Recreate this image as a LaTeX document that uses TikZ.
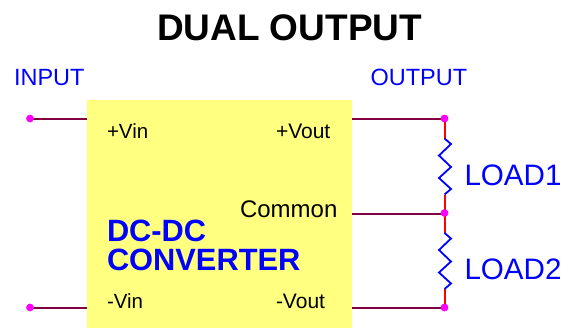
\documentclass[tikz,border=0pt]{standalone}
\usepackage{fontspec}
\setmainfont{Liberation Sans}
\definecolor{wirec}{RGB}{128,0,64}
\definecolor{boxc}{RGB}{255,255,128}
\definecolor{dotc}{RGB}{255,0,255}
\definecolor{labc}{RGB}{0,0,255}
\begin{document}
\begin{tikzpicture}[x=1pt,y=-1pt,
  lbl/.style={anchor=base west,inner sep=0pt,outer sep=0pt},
  blue23/.style={lbl,text=labc,font=\fontsize{23.5}{23.5}\selectfont},
  blue29/.style={lbl,text=labc,font=\fontsize{29.6}{29.6}\selectfont},
  pin/.style={lbl,text=black,font=\fontsize{21}{21}\selectfont},
  conv/.style={lbl,text=labc,font=\fontsize{30.8}{30.8}\selectfont\bfseries},
  dot/.style={circle,fill=dotc,draw=none,minimum size=7.5pt,inner sep=0pt},
  wire/.style={draw=wirec,line width=2pt},
  lead/.style={draw=red,line width=2pt},
  zig/.style={draw=blue,line width=1.8pt,line join=miter}]
\useasboundingbox (0,0) rectangle (570,329);
\node[draw=none,fill=boxc,minimum width=265pt,minimum height=228pt,inner sep=0pt,outer sep=0pt] (box) at (219.5,214) {};
\coordinate (w1) at (box.west |- 0,119);
\coordinate (w2) at (box.west |- 0,308);
\coordinate (e1) at (box.east |- 0,119);
\coordinate (e2) at (box.east |- 0,213.7);
\coordinate (e3) at (box.east |- 0,308);
\node[dot] (in1) at (30,118.5) {};
\node[dot] (in2) at (30,307.5) {};
\node[dot] (out1) at (444.5,118.5) {};
\node[dot] (out2) at (444.5,213) {};
\node[dot] (out3) at (444.5,307.5) {};
\coordinate (r1a) at (444.5,138.5);
\coordinate (r1b) at (444.5,194.5);
\coordinate (r2a) at (444.5,233);
\coordinate (r2b) at (444.5,289);
\draw[lead] (out1.center) -- (r1a);
\draw[lead] (r1b) -- (out2.center) -- (r2a);
\draw[lead] (r2b) -- (out3.center);
\draw[zig] (r1a) -- (451,144) -- (439,155.5) -- (451,167) -- (439,178) -- (451,189) -- (r1b);
\draw[zig] (r2a) -- (451,238.5) -- (439,250) -- (451,261.5) -- (439,272.5) -- (451,283.5) -- (r2b);
\draw[wire] (in1.center |- w1) -- (w1);
\draw[wire] (in2.center |- w2) -- (w2);
\draw[wire] (e1) -- (out1.center |- e1);
\draw[wire] (e2) -- (out2.center |- e2);
\draw[wire] (e3) -- (out3.center |- e3);
\node[dot] at (in1) {};
\node[dot] at (in2) {};
\node[dot] at (out1) {};
\node[dot] at (out2) {};
\node[dot] at (out3) {};
\node[lbl,font=\fontsize{37}{37}\selectfont\bfseries] (title) at (157,40.5) {DUAL OUTPUT};
\node[blue23] (input) at (14,85) {INPUT};
\node[blue23] (output) at (370.5,85) {OUTPUT};
\node[pin,font=\fontsize{20.5}{20.5}\selectfont] (vinp) at (107,138) {+Vin};
\node[pin] (voutp) at (276,138) {+Vout};
\node[lbl,text=black,font=\fontsize{24}{24}\selectfont] (common) at (240,217) {Common};
\node[conv] (dc) at (107,241) {DC-DC};
\node[conv] (cv) at (107,270) {CONVERTER};
\node[pin,font=\fontsize{20.5}{20.5}\selectfont] (vinm) at (107,308) {-Vin};
\node[pin] (voutm) at (276,308) {-Vout};
\node[blue29] (l1) at (464.5,185) {LOAD1};
\node[blue29] (l2) at (464.5,279) {LOAD2};
\end{tikzpicture}
\end{document}
